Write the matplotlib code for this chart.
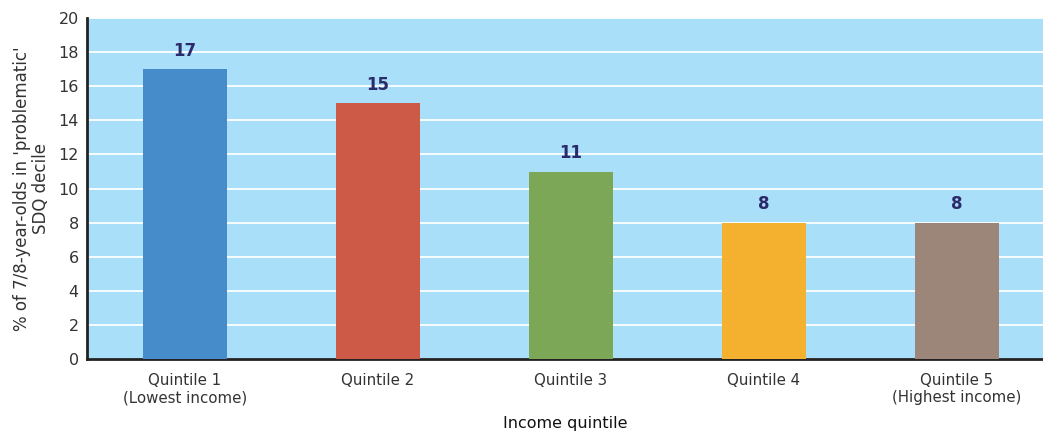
import matplotlib
matplotlib.use("Agg")
import matplotlib.pyplot as plt

categories = ['Quintile 1\n(Lowest income)', 'Quintile 2', 'Quintile 3',
              'Quintile 4', 'Quintile 5\n(Highest income)']
values = [17, 15, 11, 8, 8]
colors = ['#468bca', '#cc5a47', '#7ba756', '#f4b02f', '#9c8579']

plt.rcParams['font.family'] = 'DejaVu Sans'

fig = plt.figure(figsize=(10.43, 4.33), dpi=100)
ax = fig.add_axes([0.0834, 0.171, 0.9166, 0.787])
ax.set_facecolor('#aadff9')

x = range(len(values))
bars = ax.bar(x, values, width=0.435, color=colors, zorder=3)
for xi, v in zip(x, values):
    ax.text(xi, v + 0.55, str(v), ha='center', va='bottom', fontsize=12,
            fontweight='bold', color='#2b2a6b', zorder=4)

ax.set_ylim(0, 20)
ax.set_xlim(-0.507, 4.446)
ax.set_yticks(range(0, 21, 2))
ax.set_xticks(list(x))
ax.set_xticklabels(categories, fontsize=10.8, color='#333333', linespacing=1.2)
ax.tick_params(axis='y', labelsize=11.5, colors='#333333', length=0, pad=6)
ax.tick_params(axis='x', length=0, pad=10)
ax.yaxis.grid(True, color='white', linewidth=1.3, zorder=1)
ax.set_axisbelow(True)

for s in ['top', 'right']:
    ax.spines[s].set_visible(False)
ax.spines['left'].set_linewidth(2)
ax.spines['bottom'].set_linewidth(2)
ax.spines['left'].set_color('#222222')
ax.spines['bottom'].set_color('#222222')

ax.set_ylabel("% of 7/8-year-olds in 'problematic'\nSDQ decile", fontsize=12,
              color='#333333', linespacing=1.05, labelpad=6)
ax.set_xlabel('Income quintile', fontsize=11.5, color='#111111', labelpad=8)

fig.savefig('out.png', dpi=100)
